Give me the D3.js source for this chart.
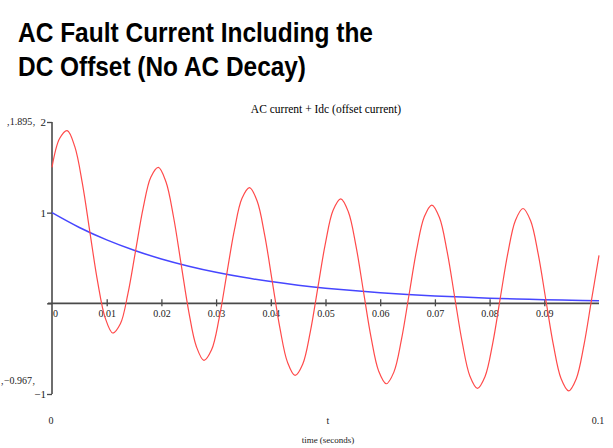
<!DOCTYPE html>
<html>
<head>
<meta charset="utf-8">
<script src="https://cdn.jsdelivr.net/npm/d3@7"></script>
<style>
  html, body { margin: 0; padding: 0; background: #fff; }
  svg { display: block; }
</style>
</head>
<body>
<svg id="chart"></svg>
<script>
// sample times (s) for the red trace
const redTimes = [0, 0.00139, 0.00278, 0.00417, 0.00556, 0.00694, 0.00833, 0.00972, 0.01111, 0.0125,
  0.01389, 0.01528, 0.01667, 0.01806, 0.01944, 0.02083, 0.02222, 0.02361, 0.025, 0.02639,
  0.02778, 0.02917, 0.03056, 0.03194, 0.03333, 0.03472, 0.03611, 0.0375, 0.03889, 0.04028,
  0.04167, 0.04306, 0.04444, 0.04583, 0.04722, 0.04861, 0.05, 0.05139, 0.05278, 0.05417,
  0.05556, 0.05694, 0.05833, 0.05972, 0.06111, 0.0625, 0.06389, 0.06528, 0.06667, 0.06806,
  0.06944, 0.07083, 0.07222, 0.07361, 0.075, 0.07639, 0.07778, 0.07917, 0.08056, 0.08194,
  0.08333, 0.08472, 0.08611, 0.0875, 0.08889, 0.09028, 0.09167, 0.09306, 0.09444, 0.09583,
  0.09722, 0.09861, 0.1];
// AC current + Idc
const redValues = [1.5, 1.8176, 1.9056, 1.7278, 1.3201, 0.7804, 0.2427, -0.1593, -0.3274, -0.226,
  0.109, 0.5796, 1.0515, 1.3908, 1.4994, 1.3413, 0.9523, 0.4304, -0.0904, -0.4762,
  -0.6291, -0.513, -0.1641, 0.3197, 0.8042, 1.1554, 1.2754, 1.1281, 0.7494, 0.2374,
  -0.2741, -0.651, -0.7954, -0.6713, -0.3148, 0.1763, 0.6677, 1.0256, 1.1519, 1.0105,
  0.6375, 0.1309, -0.3754, -0.7475, -0.8872, -0.7587, -0.3979, 0.0972, 0.5925, 0.954,
  1.0838, 0.9457, 0.5759, 0.0722, -0.4313, -0.8006, -0.9378, -0.8068, -0.4437, 0.0536,
  0.551, 0.9145, 1.0462, 0.91, 0.5418, 0.0398, -0.4621, -0.83, -0.9657, -0.8334,
  -0.4689, 0.0296, 0.5281];
// Idc (offset current)
const blueTimes = [0, 0.005, 0.01, 0.015, 0.02, 0.025, 0.03, 0.035, 0.04, 0.045, 0.05,
  0.055, 0.06, 0.065, 0.07, 0.075, 0.08, 0.085, 0.09, 0.095, 0.1];
const blueValues = [1, 0.8365, 0.6997, 0.5853, 0.4895, 0.4095, 0.3425, 0.2865, 0.2397, 0.2005, 0.1677,
  0.1403, 0.1173, 0.0981, 0.0821, 0.0687, 0.0574, 0.048, 0.0402, 0.0336, 0.0281];

const xTicks = [0, 0.01, 0.02, 0.03, 0.04, 0.05, 0.06, 0.07, 0.08, 0.09];
const yTicks = [2, 1, 0, -1];
const yMax = 1.895, yMin = -0.967;

const width = 613, height = 448;
const svg = d3.select('#chart').attr('width', width).attr('height', height);

// slide title
const title = svg.append('g')
  .attr('font-family', '"Liberation Sans Narrow", "Arial Narrow", "Liberation Sans", Arial, sans-serif')
  .attr('font-weight', 'bold')
  .attr('font-size', 27)
  .attr('fill', '#000');
title.append('text').attr('x', 18).attr('y', 42)
  .attr('textLength', 355).attr('lengthAdjust', 'spacingAndGlyphs')
  .text('AC Fault Current Including the');
title.append('text').attr('x', 18).attr('y', 76)
  .attr('textLength', 288).attr('lengthAdjust', 'spacingAndGlyphs')
  .text('DC Offset (No AC Decay)');

const x = d3.scaleLinear().domain([0, 0.1]).range([52, 599]);
const y = d3.scaleLinear().domain([-1, 2]).range([394, 122]);

const serif = '"Liberation Serif", "Times New Roman", Times, serif';

svg.append('text')
  .attr('x', 326).attr('y', 113)
  .attr('text-anchor', 'middle')
  .attr('font-family', serif).attr('font-size', 11.5)
  .text('AC current + Idc (offset current)');

// axes
const axisColor = '#4a4a4a';
const xAxis = svg.append('g')
  .attr('transform', `translate(0,${y(0)})`)
  .call(d3.axisBottom(x).tickValues(xTicks).tickSize(3).tickFormat(d3.format('.2~f')));
xAxis.select('.domain').remove();
xAxis.selectAll('.tick line').attr('y1', d => d === 0 ? 0 : -4).attr('y2', d => d === 0 ? 0 : 3)
  .attr('stroke', axisColor).attr('stroke-width', 1.3);
xAxis.selectAll('.tick text').attr('y', 7).attr('dx', d => d === 0 ? 3 : 0)
  .attr('font-family', serif).attr('font-size', 10).attr('fill', '#222');

const yAxis = svg.append('g')
  .attr('transform', `translate(${x(0)},0)`)
  .call(d3.axisLeft(y).tickValues(yTicks).tickSize(5).tickFormat(d => d === 0 ? '' : d3.format('d')(d).replace('-', '\u2212')));
yAxis.select('.domain').remove();
yAxis.selectAll('.tick line').attr('stroke', axisColor).attr('stroke-width', 1.3);
yAxis.selectAll('.tick text').attr('x', -6).attr('font-family', serif).attr('font-size', 11).attr('fill', '#222');

svg.append('line')
  .attr('x1', x(0) - 4).attr('x2', x(0.1)).attr('y1', y(0)).attr('y2', y(0))
  .attr('stroke', axisColor).attr('stroke-width', 1.6);
svg.append('line')
  .attr('x1', x(0)).attr('x2', x(0)).attr('y1', y(2)).attr('y2', y(-1))
  .attr('stroke', axisColor).attr('stroke-width', 1.6);

// min / max markers
const markers = svg.append('g').attr('font-family', serif).attr('font-size', 10).attr('fill', '#222');
markers.append('text').attr('x', 21).attr('y', y(2) + 3).attr('text-anchor', 'middle').text('\u201a1.895\u201a');
markers.append('text').attr('x', 18).attr('y', y(yMin) - 7).attr('text-anchor', 'middle').text('\u201a\u22120.967\u201a');

// range labels
const labels = svg.append('g').attr('font-family', serif).attr('font-size', 10).attr('fill', '#222').attr('text-anchor', 'middle');
labels.append('text').attr('x', x(0) - 1).attr('y', 424).text('0');
labels.append('text').attr('x', x(0.1) - 1).attr('y', 424).text('0.1');
labels.append('text').attr('x', 328).attr('y', 424).text('t');
labels.append('text').attr('x', 328).attr('y', 443).attr('font-size', 9).text('time (seconds)');

// traces
const line = d3.line()
  .x(d => x(d[0]))
  .y(d => y(d[1]))
  .curve(d3.curveCatmullRom.alpha(0.5));

svg.append('path')
  .datum(blueTimes.map((t, i) => [t, blueValues[i]]))
  .attr('fill', 'none')
  .attr('stroke', '#4646ff')
  .attr('stroke-width', 1.5)
  .attr('d', line);

svg.append('path')
  .datum(redTimes.map((t, i) => [t, redValues[i]]))
  .attr('fill', 'none')
  .attr('stroke', '#ff4a4a')
  .attr('stroke-width', 1.2)
  .attr('d', line);
</script>
</body>
</html>
